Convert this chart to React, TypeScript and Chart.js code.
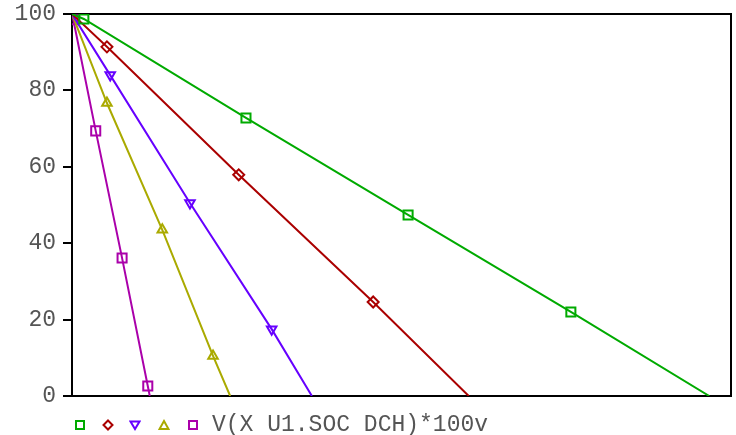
import React, { useEffect, useRef } from "react";
import { Chart, registerables } from "chart.js";

Chart.register(...registerables);

// y-axis ticks
const yTicks = [0, 20, 40, 60, 80, 100];
const legendText = "V(X U1.SOC DCH)*100v";

// Each series: points (x in arbitrary time units 0..100, y = SOC %)
// m = 1 marks a symbol position
const greenX = [0, 1.8, 26.4, 51.0, 75.7, 96.7];
const greenY = [100, 98.7, 72.8, 47.4, 22.0, 0];
const greenM = [0, 1, 1, 1, 1, 0];

const redX = [0, 5.3, 25.3, 45.7, 60.2];
const redY = [100, 91.4, 57.9, 24.6, 0];
const redM = [0, 1, 1, 1, 0];

const blueX = [0, 5.8, 17.9, 30.3, 36.4];
const blueY = [100, 84.0, 50.5, 17.5, 0];
const blueM = [0, 1, 1, 1, 0];

const yellowX = [0, 5.3, 13.7, 21.4, 24.0];
const yellowY = [100, 76.7, 43.5, 10.5, 0];
const yellowM = [0, 1, 1, 1, 0];

const purpleX = [0, 0.2, 3.6, 7.6, 11.5, 11.8];
const purpleY = [100, 98.5, 69.4, 36.1, 2.6, 0];
const purpleM = [0, 1, 1, 1, 1, 0];

const seriesColors = ["#00aa00", "#aa0000", "#6600ff", "#aaaa00", "#aa00aa"];
const seriesStyles: any[] = ["rect", "rectRot", "triangle", "triangle", "rect"];
const seriesRotation = [0, 0, 180, 0, 0];

function build(xs: number[], ys: number[], ms: number[]) {
  return xs.map((x, i) => ({ x, y: ys[i], m: ms[i] }));
}

const framePlugin = {
  id: "frame",
  beforeDatasetsDraw(chart: any) {
    const { ctx, chartArea } = chart;
    ctx.save();
    ctx.strokeStyle = "#000";
    ctx.lineWidth = 2;
    ctx.strokeRect(chartArea.left, chartArea.top, chartArea.right - chartArea.left, chartArea.bottom - chartArea.top);
    ctx.restore();
  },
};

function Marker({ color, kind }: { color: string; kind: string }) {
  let shape: any = null;
  if (kind === "square") shape = <rect x={2} y={2} width={8} height={8} fill="none" stroke={color} strokeWidth={2} />;
  if (kind === "diamond") shape = <polygon points="6,1.5 10.5,6 6,10.5 1.5,6" fill="none" stroke={color} strokeWidth={2} />;
  if (kind === "down") shape = <polygon points="1.5,2.5 10.5,2.5 6,10" fill="none" stroke={color} strokeWidth={2} />;
  if (kind === "up") shape = <polygon points="6,2 10.5,10 1.5,10" fill="none" stroke={color} strokeWidth={2} />;
  return (
    <svg width={12} height={12} style={{ display: "block" }}>
      {shape}
    </svg>
  );
}

export default function App() {
  const ref = useRef<HTMLCanvasElement>(null);
  useEffect(() => {
    if (!ref.current) return;
    const sets = [
      build(greenX, greenY, greenM),
      build(redX, redY, redM),
      build(blueX, blueY, blueM),
      build(yellowX, yellowY, yellowM),
      build(purpleX, purpleY, purpleM),
    ];
    const chart = new Chart(ref.current, {
      type: "line",
      data: {
        datasets: sets.map((d, i) => ({
          label: legendText,
          data: d,
          borderColor: seriesColors[i],
          borderWidth: 2,
          backgroundColor: "transparent",
          pointBackgroundColor: "transparent",
          pointBorderColor: seriesColors[i],
          pointBorderWidth: 2,
          pointStyle: seriesStyles[i],
          pointRotation: seriesRotation[i],
          pointRadius: (c: any) => (c.raw && c.raw.m ? (seriesStyles[i] === "rect" ? 6.4 : 5.5) : 0),
          pointHoverRadius: 0,
          tension: 0,
          fill: false,
        })),
      },
      options: {
        animation: false,
        responsive: false,
        maintainAspectRatio: false,
        layout: { padding: { left: 0, right: 5, top: 14, bottom: 39 } },
        plugins: { legend: { display: false }, tooltip: { enabled: false } },
        scales: {
          x: { type: "linear", min: 0, max: 100, display: false },
          y: {
            type: "linear",
            min: 0,
            max: 100,
            afterBuildTicks: (s: any) => {
              s.ticks = yTicks.map((v) => ({ value: v }));
            },
            afterFit: (s: any) => {
              s.width = 72;
              s.paddingTop = 0;
              s.paddingBottom = 0;
            },
            border: { display: true, color: "#000", width: 2 },
            grid: { drawOnChartArea: false, drawTicks: true, tickLength: 9, color: "#000", lineWidth: 2 },
            ticks: {
              padding: 7,
              color: "#555",
              font: { family: "'Liberation Mono', monospace", size: 23 },
            },
          },
        },
      },
      plugins: [framePlugin],
    } as any);
    return () => chart.destroy();
  }, []);

  const legendItems = [
    { x: 80, kind: "square" },
    { x: 108, kind: "diamond" },
    { x: 135, kind: "down" },
    { x: 164, kind: "up" },
    { x: 193, kind: "square" },
  ];

  return (
    <div style={{ position: "absolute", left: 0, top: 0, width: 736, height: 435, background: "#fff", overflow: "hidden" }}>
      <canvas ref={ref} width={736} height={435} style={{ position: "absolute", left: 0, top: 0 }} />
      {legendItems.map((it, i) => (
        <div key={i} style={{ position: "absolute", left: it.x - 6, top: 419 }}>
          <Marker color={seriesColors[i]} kind={it.kind} />
        </div>
      ))}
      <div
        style={{
          position: "absolute",
          left: 212,
          top: 414,
          fontFamily: "'Liberation Mono', monospace",
          fontSize: 23,
          lineHeight: "23px",
          color: "#555",
          whiteSpace: "pre",
        }}
      >
        {legendText}
      </div>
    </div>
  );
}
